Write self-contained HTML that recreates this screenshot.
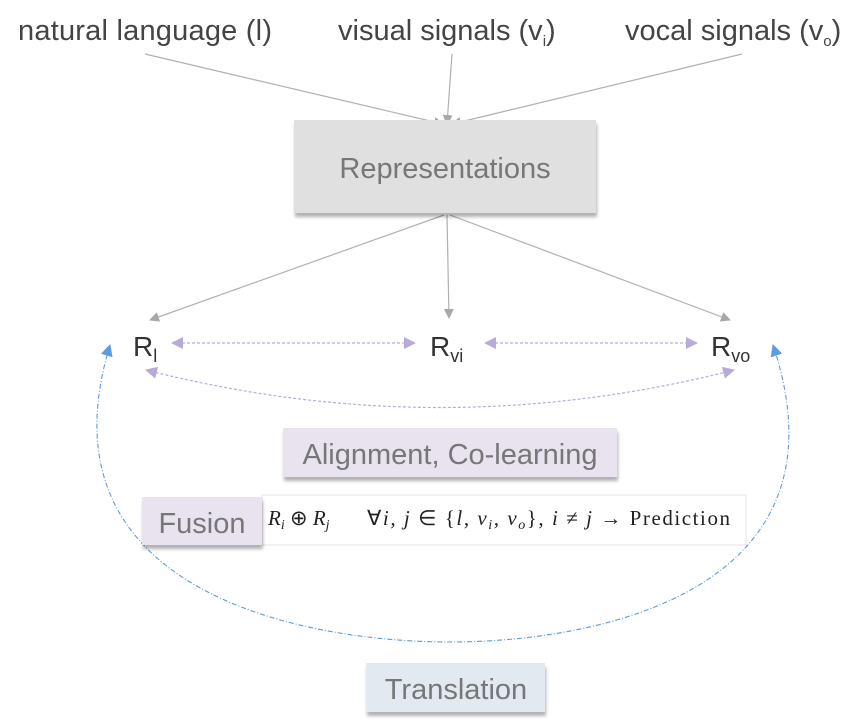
<!DOCTYPE html>
<html><head><meta charset="utf-8"><style>
body{margin:0;background:#fff;}
svg{display:block;font-family:"Liberation Sans",sans-serif;}
</style></head><body>
<svg width="862" height="722" viewBox="0 0 862 722">
<defs>
<marker id="g" markerWidth="10" markerHeight="10" refX="9" refY="5" orient="auto" markerUnits="userSpaceOnUse"><path d="M0,0 L10,5 L0,10 z" fill="#a8a8a8"/></marker>
<marker id="p" markerWidth="12" markerHeight="12" refX="11" refY="6" orient="auto-start-reverse" markerUnits="userSpaceOnUse"><path d="M0,0 L12,6 L0,12 z" fill="#b8acd6"/></marker>
<marker id="b" markerWidth="12" markerHeight="12" refX="11" refY="6" orient="auto-start-reverse" markerUnits="userSpaceOnUse"><path d="M0,0 L12,6 L0,12 z" fill="#5b9be0"/></marker>
<filter id="s" x="-10%" y="-10%" width="130%" height="140%"><feDropShadow dx="1" dy="4" stdDeviation="1.5" flood-color="#000" flood-opacity="0.3"/></filter>
</defs>
<g font-size="29" fill="#444">
<text x="18" y="40" textLength="254">natural language (l)</text>
<text x="338" y="40">visual signals (v<tspan font-size="15" dy="6">i</tspan><tspan dy="-6">)</tspan></text>
<text x="625" y="40">vocal signals (v<tspan font-size="15" dy="6">o</tspan><tspan dy="-6">)</tspan></text>
</g>
<g stroke="#b0b0b0" stroke-width="1.2" fill="none">
<line x1="145" y1="54" x2="443" y2="124" marker-end="url(#g)"/>
<line x1="452" y1="54" x2="447" y2="124" marker-end="url(#g)"/>
<line x1="742" y1="54" x2="452" y2="124" marker-end="url(#g)"/>
<line x1="444" y1="215" x2="150" y2="320" marker-end="url(#g)"/>
<line x1="447" y1="215" x2="449" y2="318" marker-end="url(#g)"/>
<line x1="450" y1="215" x2="730" y2="320" marker-end="url(#g)"/>
</g>
<rect x="294" y="120" width="302" height="93" fill="#e0e0e0" filter="url(#s)"/>
<text x="445" y="178" font-size="29" fill="#777" text-anchor="middle">Representations</text>
<g font-size="28" fill="#333">
<text x="133" y="356">R<tspan font-size="18" dy="6">l</tspan></text>
<text x="430" y="356">R<tspan font-size="18" dy="6">vi</tspan></text>
<text x="711" y="356">R<tspan font-size="18" dy="6">vo</tspan></text>
</g>
<g stroke="#b8acd6" stroke-width="1.2" stroke-dasharray="3,2" fill="none">
<line x1="172" y1="343" x2="415" y2="343" marker-start="url(#p)" marker-end="url(#p)"/>
<line x1="485" y1="343" x2="697" y2="343" marker-start="url(#p)" marker-end="url(#p)"/>
<path d="M146,370 Q440,445 734,370" marker-start="url(#p)" marker-end="url(#p)"/>
</g>
<path d="M110,345 C35,590 300,642 450,642 C600,642 855,590 773,345" stroke="#5b9be0" stroke-width="1.1" stroke-dasharray="5,2,1,2" fill="none" marker-start="url(#b)" marker-end="url(#b)"/>
<rect x="283" y="428" width="334" height="49" fill="#e8e3ee" filter="url(#s)"/>
<text x="450" y="464" font-size="29" fill="#777" text-anchor="middle">Alignment, Co-learning</text>
<rect x="262" y="495" width="484" height="50" fill="#fff" stroke="#e4e4ee"/>
<rect x="142" y="497" width="120" height="48" fill="#e8e3ee" filter="url(#s)"/>
<text x="202" y="533" font-size="29" fill="#777" text-anchor="middle">Fusion</text>
<g font-size="21" fill="#222" font-family="Liberation Serif,serif">
<text x="268" y="525"><tspan font-style="italic">R</tspan><tspan font-size="14" font-style="italic" dy="4">i</tspan><tspan dy="-4"> ⊕ </tspan><tspan font-style="italic">R</tspan><tspan font-size="14" font-style="italic" dy="4">j</tspan></text>
<text x="367" y="525" textLength="363" lengthAdjust="spacing">∀<tspan font-style="italic">i, j</tspan> ∈ {<tspan font-style="italic">l, v</tspan><tspan font-size="14" font-style="italic" dy="4">i</tspan><tspan dy="-4" font-style="italic">, v</tspan><tspan font-size="14" font-style="italic" dy="4">o</tspan><tspan dy="-4">}, </tspan><tspan font-style="italic">i</tspan> ≠ <tspan font-style="italic">j</tspan> → Prediction</text>
</g>
<rect x="366" y="663" width="179" height="49" fill="#e3e9f1" filter="url(#s)"/>
<text x="456" y="699" font-size="29" fill="#777" text-anchor="middle">Translation</text>
</svg>
</body></html>
